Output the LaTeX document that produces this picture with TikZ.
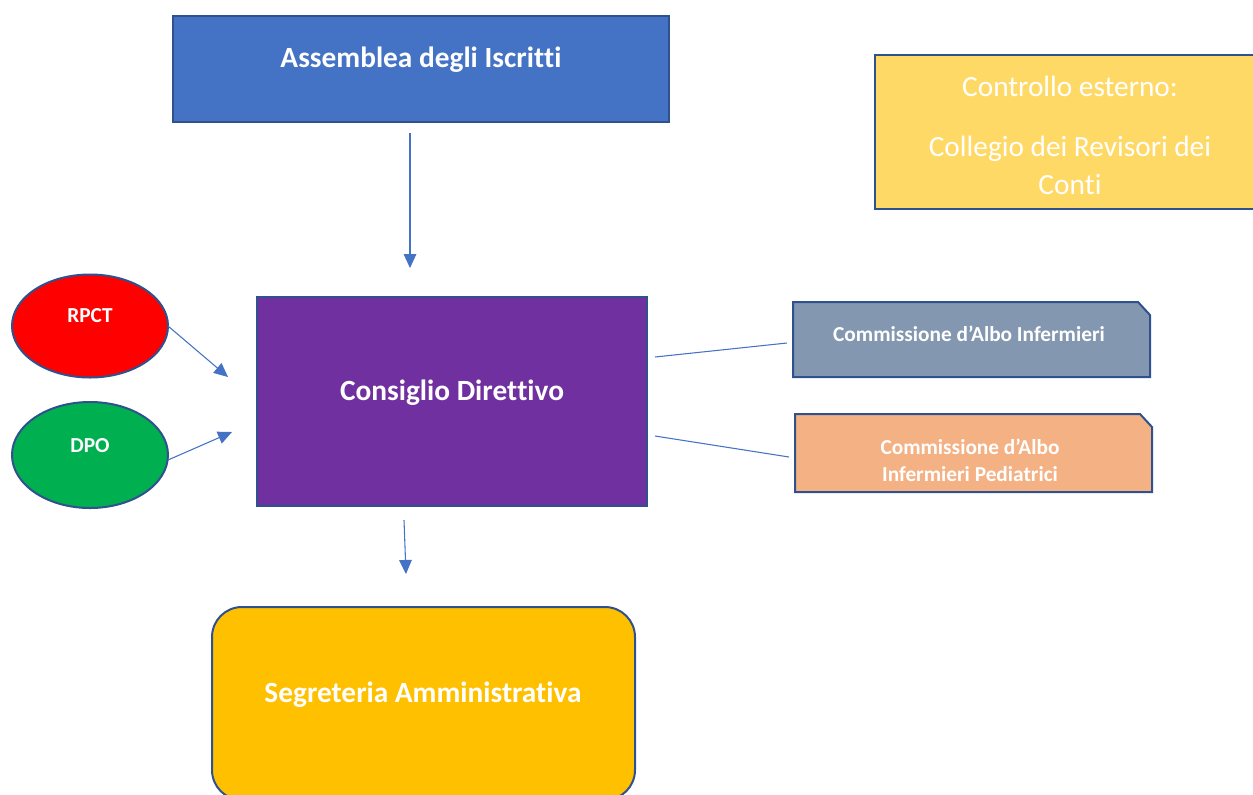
\documentclass[tikz,border=0pt]{standalone}
\usepackage{fontspec}
\setmainfont{Carlito}[RawFeature={-liga;-clig;-calt;-dlig}]
\usetikzlibrary{arrows.meta,shapes.geometric}
\definecolor{bord}{HTML}{2F528F}
\definecolor{acc}{HTML}{4472C4}
\definecolor{asmcol}{HTML}{4472C4}
\definecolor{ctrlcol}{HTML}{FFD966}
\definecolor{cdcol}{HTML}{7030A0}
\definecolor{rpctcol}{HTML}{FF0000}
\definecolor{dpocol}{HTML}{00B050}
\definecolor{caicol}{HTML}{8497B0}
\definecolor{caipcol}{HTML}{F4B183}
\definecolor{segcol}{HTML}{FFC000}
\begin{document}
\begin{tikzpicture}[x=0.75pt,y=-0.75pt,
  box/.style={draw=bord, line width=1.5pt, inner sep=0pt, outer sep=0pt},
  plain/.style={inner sep=0pt, outer sep=0pt},
  bigtxt/.style={text=white, font=\fontsize{22}{26}\selectfont\bfseries},
  regtxt/.style={text=white, font=\fontsize{22}{28.5}\selectfont, align=center},
  smalltxt/.style={text=white, font=\fontsize{16}{20.25}\selectfont\bfseries, align=center},
  arr/.style={draw=acc, line width=0.8pt, -{Triangle[length=10.5pt,width=9.5pt]}},
  link/.style={draw=acc, line width=0.8pt}]
\useasboundingbox (0,0) rectangle (1253,794);
\clip (0,0) rectangle (1253,794);

% Assemblea
\node[box, fill=asmcol, minimum width=372pt, minimum height=79.5pt] (asm) at (421,69) {};
\node[bigtxt] (asmt) at (421,60) {Assemblea degli Iscrit\kern0pt t\kern0pt i};

% Controllo esterno
\node[box, fill=ctrlcol, minimum width=292.5pt, minimum height=115.5pt] (ctrl) at (1070,132) {};
\node[regtxt] (ctrlt) at (1070,135) {Controllo esterno:\\[16.5pt]Collegio dei Revisori dei\\Con\kern0pt t\kern0pt i};

% Consiglio Direttivo
\node[box, fill=cdcol, minimum width=292.5pt, minimum height=156.75pt] (cd) at (452,401.5) {};
\node[bigtxt] (cdt) at (452,393) {Consiglio Diret\kern0pt t\kern0pt ivo};

% RPCT, DPO
\node[box, ellipse, fill=rpctcol, minimum width=117pt, minimum height=77.25pt] (rpct) at (90,326) {};
\node[smalltxt] (rpctt) at (90,316) {RPCT};
\node[box, ellipse, fill=dpocol, minimum width=117pt, minimum height=79.5pt] (dpo) at (90,455) {};
\node[smalltxt] (dpot) at (90,446) {DPO};

% Commissioni
\node[plain, minimum width=267.75pt, minimum height=56.25pt] (cai) at (971.5,339.5) {};
\path[box, fill=caicol] (cai.south west) -- (cai.north west) -- ([xshift=-9pt]cai.north east) -- ([yshift=-9.75pt]cai.north east) -- (cai.south east) -- cycle;
\node[smalltxt] (cait) at (969,334) {Commissione d’Albo Infermieri};

\node[plain, minimum width=267.75pt, minimum height=58.5pt] (caip) at (973.5,453) {};
\path[box, fill=caipcol] (caip.south west) -- (caip.north west) -- ([xshift=-9pt]caip.north east) -- ([yshift=-9.75pt]caip.north east) -- (caip.south east) -- cycle;
\node[smalltxt] (caipt) at (970,460.5) {Commissione d’Albo\\Infermieri Pediatrici};

% Segreteria
\node[box, rounded corners=22.5pt, fill=segcol, minimum width=317.25pt, minimum height=144.75pt] (seg) at (423.5,703.5) {};
\node[bigtxt] (segt) at (423,695) {Segreteria Amministrativa};

% connector end points
\coordinate (a1s) at (410,133);
\coordinate (a1e) at (410,268);
\coordinate (a2e) at (228,377);
\coordinate (a3s) at (168,460);
\coordinate (a3e) at (232,432);
\coordinate (l1s) at (655,357);
\coordinate (l1e) at (787,343);
\coordinate (l2s) at (655,436);
\coordinate (l2e) at (789,457);
\coordinate (a4s) at (404,520);
\coordinate (a4e) at (406,574);

\draw[arr] (a1s) -- (a1e);
\draw[arr] (rpct.east) -- (a2e);
\draw[arr] (a3s) -- (a3e);
\draw[link] (l1s) -- (l1e);
\draw[link] (l2s) -- (l2e);
\draw[arr] (a4s) -- (a4e);
\end{tikzpicture}
\end{document}
